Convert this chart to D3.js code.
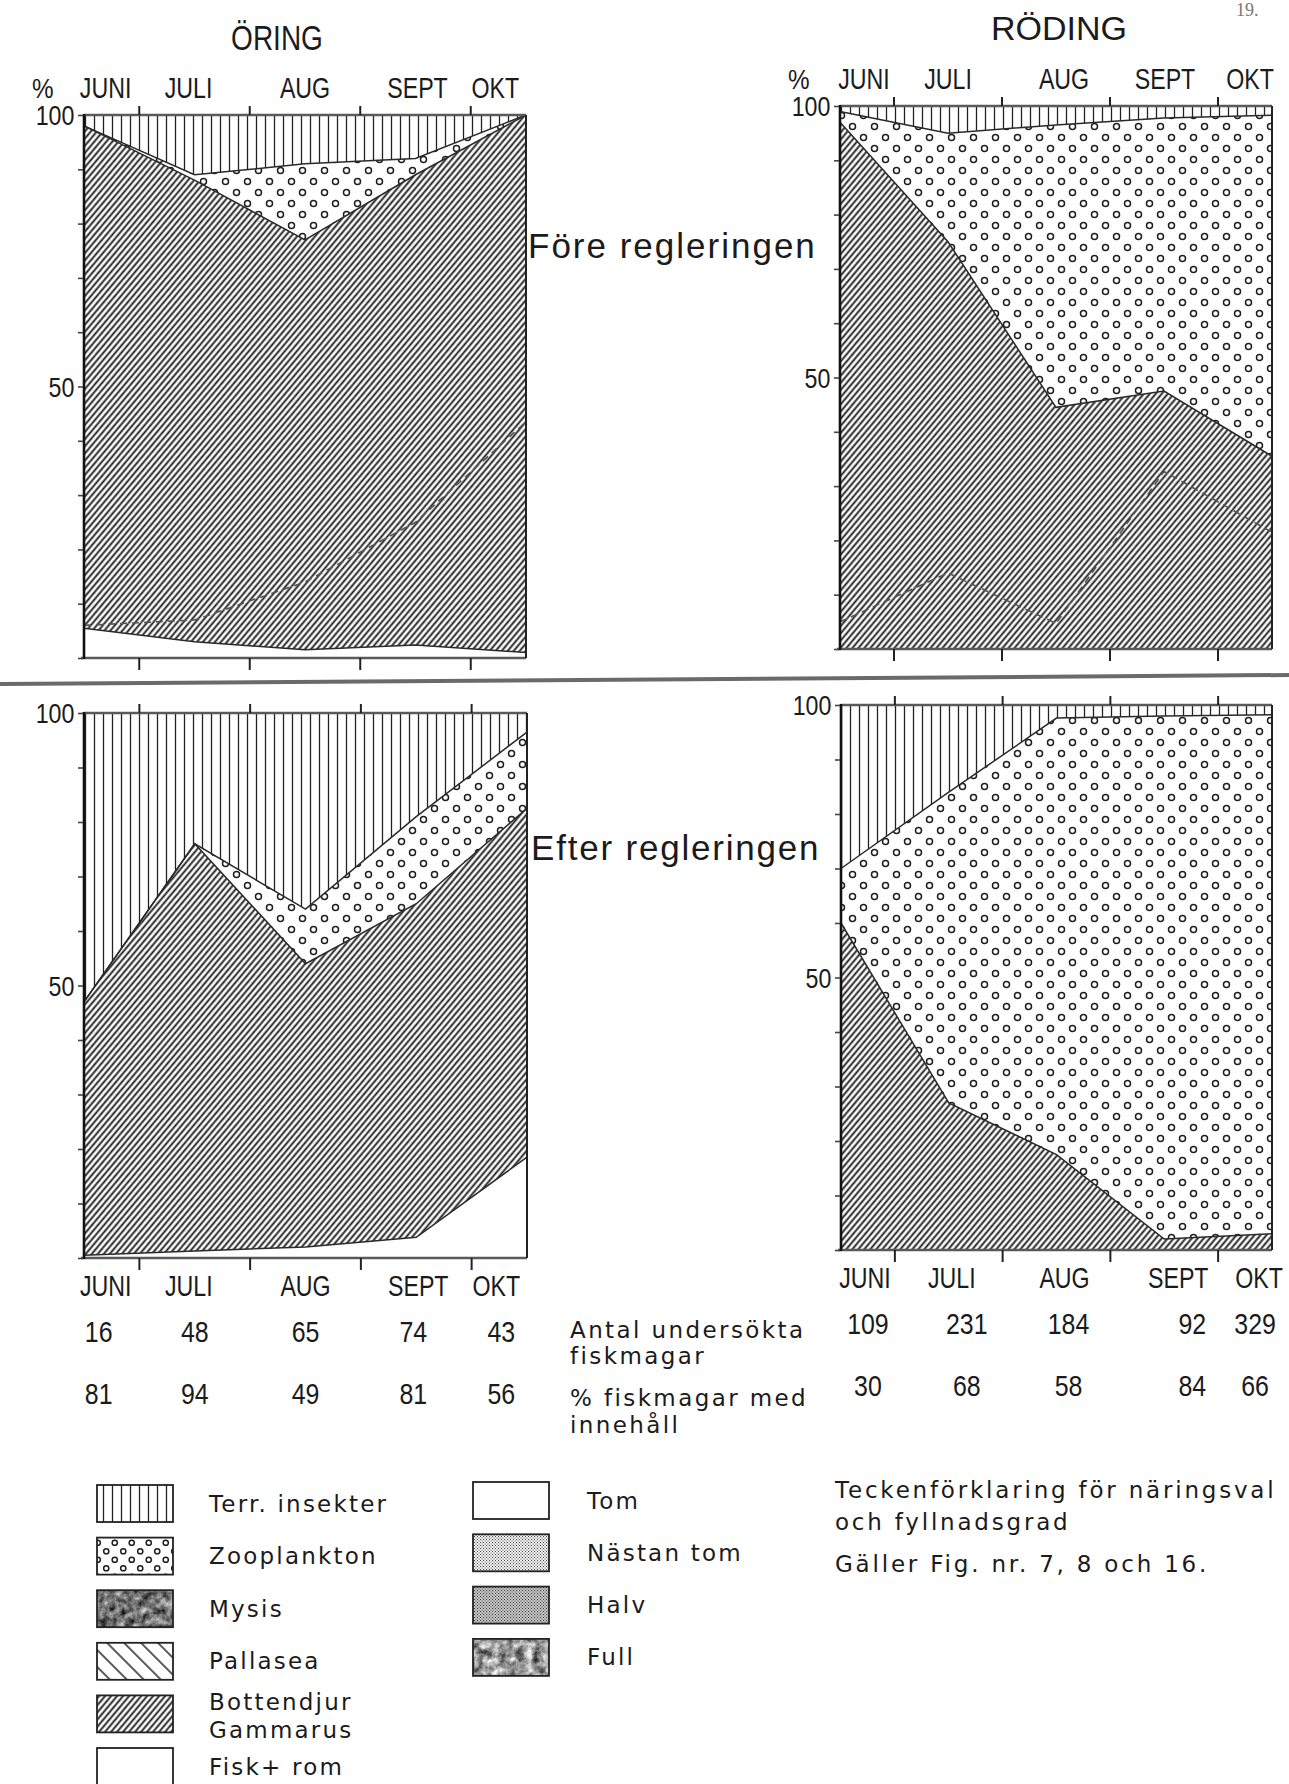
<!DOCTYPE html>
<html>
<head>
<meta charset="utf-8">
<script src="https://cdn.jsdelivr.net/npm/d3@7"></script>
<style>
  html, body { margin: 0; padding: 0; background: #fff; }
  svg { display: block; }
  .cond { font-family: "Liberation Sans", Arial, sans-serif; fill: #1b1b1b; }
  .reg { font-family: "Liberation Sans", Arial, sans-serif; fill: #1b1b1b; }
  .round { font-family: "DejaVu Sans", "Noto Sans", sans-serif; fill: #1b1b1b; }
</style>
</head>
<body>
<svg id="fig" width="1289" height="1784"></svg>
<script>
// ---- data -------------------------------------------------------------
const months = ["JUNI", "JULI", "AUG", "SEPT", "OKT"];
const yMinorTicks = [0, 10, 20, 30, 40, 50, 60, 70, 80, 90, 100];
const yLabelTicks = [100, 50];

// Share of stomach content (%) per month, stacked bottom to top
// Öring, före regleringen
const oringForeFisk        = [5.5, 3, 1.5, 2.4, 1];
const oringForeGammarus    = [0.5, 4, 12.5, 22.6, 42.5];
const oringForeBottendjur  = [92, 81, 63, 64, 56.5];
const oringForeZooplankton = [0, 1, 14, 3, 0];
const oringForeInsekter    = [2, 11, 9, 8, 0];

// Röding, före regleringen
const rodingForeFisk        = [0, 0, 0, 0, 0];
const rodingForeGammarus    = [5, 14, 4.7, 32.7, 21.5];
const rodingForeBottendjur  = [92, 61, 39.8, 14.8, 14];
const rodingForeZooplankton = [2, 20, 52, 50.3, 62.8];
const rodingForeInsekter    = [1, 5, 3.5, 2.2, 1.7];

// Öring, efter regleringen
const oringEfterFisk        = [0.5, 1.3, 2, 3.8, 18.5];
const oringEfterGammarus    = [0, 0, 0, 0, 0];
const oringEfterBottendjur  = [46.5, 74.7, 52, 61.2, 64];
const oringEfterZooplankton = [0, 0, 10, 16, 14];
const oringEfterInsekter    = [53, 24, 36, 19, 3.5];

// Röding, efter regleringen
const rodingEfterFisk        = [0, 0, 0, 0, 0];
const rodingEfterGammarus    = [0, 0, 0, 0, 0];
const rodingEfterBottendjur  = [60, 27, 17.5, 2, 3];
const rodingEfterZooplankton = [10, 57, 80.1, 96, 95.2];
const rodingEfterInsekter    = [30, 16, 2.4, 2, 1.8];

// Sample sizes
const oringAntal  = [16, 48, 65, 74, 43];
const oringMedInnehall  = [81, 94, 49, 81, 56];
const rodingAntal = [109, 231, 184, 92, 329];
const rodingMedInnehall = [30, 68, 58, 84, 66];

const dietLegend = [["Terr. insekter"], ["Zooplankton"], ["Mysis"], ["Pallasea"], ["Bottendjur", "Gammarus"], ["Fisk+ rom"]];
const fullnessLegend = ["Tom", "Nästan tom", "Halv", "Full"];
const legendNote = ["Teckenförklaring för näringsval", "och fyllnadsgrad", "Gäller Fig. nr. 7, 8 och 16."];

// ---- layout -----------------------------------------------------------
const W = 1289, H = 1784;
const keys = ["fisk", "gammarus", "bottendjur", "zooplankton", "insekter"];
// hand-lettered labels sit slightly off the interval centres
const leftMonthShift     = [-6, -6, 0, 2, -3];
const rightTopMonthShift = [-3, 0, 8, 1, 5];
const rightBotMonthShift = [-3, 3, 8, 14, 14];
const leftCountShift  = [-13, 0, 0, -3, 2];
const rightCountShift = [0, 18, 12, 28, 10];

const panels = [
  { box: { x0: 84, x1: 526, y0: 115, y1: 658 }, monthsAbove: true, pct: true, shift: leftMonthShift,
    data: [oringForeFisk, oringForeGammarus, oringForeBottendjur, oringForeZooplankton, oringForeInsekter] },
  { box: { x0: 840, x1: 1272, y0: 106, y1: 649 }, monthsAbove: true, pct: true, shift: rightTopMonthShift,
    data: [rodingForeFisk, rodingForeGammarus, rodingForeBottendjur, rodingForeZooplankton, rodingForeInsekter] },
  { box: { x0: 84, x1: 527, y0: 713, y1: 1258 }, monthsBelow: true, shift: leftMonthShift,
    counts: [oringAntal, oringMedInnehall], countShift: leftCountShift,
    data: [oringEfterFisk, oringEfterGammarus, oringEfterBottendjur, oringEfterZooplankton, oringEfterInsekter] },
  { box: { x0: 841, x1: 1272, y0: 705, y1: 1250 }, monthsBelow: true, shift: rightBotMonthShift,
    counts: [rodingAntal, rodingMedInnehall], countShift: rightCountShift,
    data: [rodingEfterFisk, rodingEfterGammarus, rodingEfterBottendjur, rodingEfterZooplankton, rodingEfterInsekter] }
];

const svg = d3.select("#fig");
svg.append("rect").attr("width", W).attr("height", H).attr("fill", "#fff");
const defs = svg.append("defs");

// narrow lettering: horizontally compressed text anchored at (x, y)
function narrowText(parent, x, y, text, size, sx, anchor) {
  return parent.append("text").attr("class", "cond")
    .attr("transform", `translate(${x},${y}) scale(${sx},1)`)
    .attr("text-anchor", anchor || "middle").attr("font-size", size).text(text);
}

// ---- fill patterns ----------------------------------------------------
function stripes(id, w, rot, sw, color) {
  const p = defs.append("pattern").attr("id", id).attr("patternUnits", "userSpaceOnUse")
    .attr("width", w).attr("height", 20).attr("patternTransform", `rotate(${rot})`);
  p.append("rect").attr("width", w).attr("height", 20).attr("fill", "#fff");
  p.append("line").attr("x1", w / 2).attr("x2", w / 2).attr("y1", -2).attr("y2", 22)
    .attr("stroke", color).attr("stroke-width", sw);
}
stripes("p-botten", 4.6, 40, 1.9, "#1e1e1e");
stripes("p-insekt", 9, 0, 1.3, "#222");
stripes("p-pallasea", 12, -45, 1.5, "#222");

function dotPattern(id, size, r) {
  const p = defs.append("pattern").attr("id", id).attr("patternUnits", "userSpaceOnUse")
    .attr("width", size).attr("height", size);
  p.append("rect").attr("width", size).attr("height", size).attr("fill", "#fff");
  [[size / 4, size / 4], [3 * size / 4, 3 * size / 4]].forEach(([cx, cy]) =>
    p.append("circle").attr("cx", cx).attr("cy", cy).attr("r", r)
      .attr("fill", "none").attr("stroke", "#1e1e1e").attr("stroke-width", 1.5));
}
dotPattern("p-zoo", 22, 3.0);
dotPattern("p-zoo-small", 17, 2.6);

function checker(id, size, bg, ink) {
  const p = defs.append("pattern").attr("id", id).attr("patternUnits", "userSpaceOnUse")
    .attr("width", 3).attr("height", 3);
  p.append("rect").attr("width", 3).attr("height", 3).attr("fill", bg);
  p.append("rect").attr("width", size).attr("height", size).attr("fill", ink);
  p.append("rect").attr("x", 1.5).attr("y", 1.5).attr("width", size).attr("height", size).attr("fill", ink);
}
checker("p-nastan", 1.1, "#fff", "#444");
checker("p-halv", 1.1, "#cfcfcf", "#3a3a3a");

// mottled grey for the Mysis and Full swatches
function mottle(id, seed, intercept) {
  const f = defs.append("filter").attr("id", id).attr("x", 0).attr("y", 0).attr("width", 1).attr("height", 1)
    .attr("color-interpolation-filters", "sRGB");
  f.append("feTurbulence").attr("type", "fractalNoise").attr("baseFrequency", 0.12)
    .attr("numOctaves", 4).attr("seed", seed);
  f.append("feColorMatrix").attr("type", "matrix")
    .attr("values", `1.25 0 0 0 ${intercept}  1.25 0 0 0 ${intercept}  1.25 0 0 0 ${intercept}  0 0 0 0 1`);
}
mottle("f-mysis", 4, -0.17);
mottle("f-full", 9, -0.04);

const fills = {
  fisk: "#fff",
  gammarus: "url(#p-botten)",
  bottendjur: "url(#p-botten)",
  zooplankton: "url(#p-zoo)",
  insekter: "url(#p-insekt)"
};

// ---- panels -----------------------------------------------------------
function drawPanel(p) {
  const { x0, x1, y0, y1 } = p.box;
  const g = svg.append("g");
  const x = d3.scalePoint().domain(months).range([x0, x1]);
  const y = d3.scaleLinear().domain([0, 100]).range([y1, y0]);

  const rows = months.map((m, i) => {
    const r = { month: m };
    keys.forEach((k, j) => { r[k] = p.data[j][i]; });
    return r;
  });
  const layers = d3.stack().keys(keys)(rows);

  const area = d3.area()
    .x(d => x(d.data.month))
    .y0(d => y(d[0]))
    .y1(d => y(d[1]));
  g.selectAll("path.layer").data(layers).join("path")
    .attr("class", "layer")
    .attr("d", area)
    .attr("fill", d => fills[d.key]);

  // boundaries between the food categories
  const edge = d3.line().x(d => x(d.data.month)).y(d => y(d[1]));
  layers.slice(0, -1).forEach((layer, i) => {
    if (d3.sum(p.data[i]) === 0) return;
    const isGammarus = layer.key === "gammarus";
    g.append("path").attr("d", edge(layer))
      .attr("fill", "none")
      .attr("stroke", isGammarus ? "#555" : "#2a2a2a")
      .attr("stroke-width", isGammarus ? 1.6 : 1.5)
      .attr("stroke-dasharray", isGammarus ? "7 5" : null);
  });

  // frame
  g.append("line").attr("x1", x0).attr("x2", x1).attr("y1", y0).attr("y2", y0)
    .attr("stroke", "#5a5a5a").attr("stroke-width", 2.4);
  g.append("line").attr("x1", x0 - 3).attr("x2", x1).attr("y1", y1).attr("y2", y1)
    .attr("stroke", "#5a5a5a").attr("stroke-width", 2.4);
  g.append("line").attr("x1", x1).attr("x2", x1).attr("y1", y0).attr("y2", y1)
    .attr("stroke", "#222").attr("stroke-width", 2);
  g.append("line").attr("x1", x0).attr("x2", x0).attr("y1", y0 - 1).attr("y2", y1 + 1)
    .attr("stroke", "#111").attr("stroke-width", 2.6);

  // y axis: minor marks every 10 %, labels at 100 and 50
  const yAxis = d3.axisLeft(y).tickValues(yMinorTicks).tickSize(5).tickPadding(5)
    .tickFormat(d => yLabelTicks.includes(d) ? d : "");
  const ya = g.append("g").attr("transform", `translate(${x0 - 1},0)`).call(yAxis);
  ya.select(".domain").remove();
  ya.selectAll(".tick line").attr("stroke", "#444").attr("stroke-width", 1.6);
  ya.selectAll(".tick text").attr("class", "cond").attr("font-size", 27)
    .attr("dy", "0.36em").attr("fill", "#1b1b1b")
    .attr("transform", "scale(0.86,1)");

  // month boundaries as ticks on top and bottom edges
  const bounds = d3.pairs(months).map(([a, b]) => (x(a) + x(b)) / 2);
  g.selectAll("line.ttop").data(bounds).join("line").attr("class", "ttop")
    .attr("x1", d => d).attr("x2", d => d).attr("y1", y0).attr("y2", y0 - 9)
    .attr("stroke", "#222").attr("stroke-width", 2);
  g.selectAll("line.tbot").data(bounds).join("line").attr("class", "tbot")
    .attr("x1", d => d).attr("x2", d => d).attr("y1", y1).attr("y2", y1 + 12)
    .attr("stroke", "#222").attr("stroke-width", 2);

  // month names centred in their interval
  const edges = [x0, ...bounds, x1];
  const centres = months.map((m, i) => (edges[i] + edges[i + 1]) / 2);
  const labelY = p.monthsAbove ? y0 - 17 : y1 + 38;
  months.forEach((m, i) => narrowText(g, centres[i] + p.shift[i], labelY, m, 29, 0.8));

  if (p.pct) narrowText(g, x0 - 52, labelY, "%", 27, 0.9, "start");

  if (p.counts) {
    p.counts.forEach((vals, r) => {
      vals.forEach((v, i) =>
        narrowText(g, centres[i] + p.countShift[i], y1 + 84 + r * 62, v, 29, 0.86));
    });
  }
}
panels.forEach(drawPanel);

// ---- titles and captions ---------------------------------------------
narrowText(svg, 277, 50, "ÖRING", 35, 0.8).attr("class", "reg");
svg.append("text").attr("class", "reg").attr("x", 1059).attr("y", 40)
  .attr("text-anchor", "middle").attr("font-size", 34).text("RÖDING");
svg.append("text").attr("x", 1236).attr("y", 16).attr("font-size", 18).attr("fill", "#777")
  .style("font-family", "Liberation Serif, serif").text("19.");
svg.append("text").attr("class", "reg").attr("x", 528).attr("y", 258)
  .attr("font-size", 35).style("letter-spacing", "2px").text("Före regleringen");
svg.append("text").attr("class", "reg").attr("x", 531).attr("y", 860)
  .attr("font-size", 35).style("letter-spacing", "1.8px").text("Efter regleringen");

// divider between the two periods
svg.append("line").attr("x1", 0).attr("x2", W).attr("y1", 684).attr("y2", 675)
  .attr("stroke", "#6a6a6a").attr("stroke-width", 4);

// row captions for the sample counts
const captions = [["Antal undersökta", 1338], ["fiskmagar", 1364], ["% fiskmagar med", 1406], ["innehåll", 1433]];
captions.forEach(([t, yy]) =>
  svg.append("text").attr("class", "round").attr("x", 570).attr("y", yy)
    .attr("font-size", 23).style("letter-spacing", "2.4px").text(t));

// ---- legend -----------------------------------------------------------
function legendSwatch(gx, top, fill) {
  const w = 76, h = 37;
  if (fill.startsWith("f-")) {
    svg.append("rect").attr("x", gx).attr("y", top).attr("width", w).attr("height", h)
      .attr("filter", `url(#${fill})`);
  } else {
    svg.append("rect").attr("x", gx).attr("y", top).attr("width", w).attr("height", h).attr("fill", fill);
  }
  svg.append("rect").attr("x", gx).attr("y", top).attr("width", w).attr("height", h)
    .attr("fill", "none").attr("stroke", "#222").attr("stroke-width", 1.8);
  return h;
}

const dietSwatches = ["url(#p-insekt)", "url(#p-zoo-small)", "f-mysis", "url(#p-pallasea)", "url(#p-botten)", "#fff"];
dietLegend.forEach((lines, i) => {
  const top = 1485 + i * 52.6;
  const h = legendSwatch(97, top, dietSwatches[i]);
  lines.forEach((t, j) => {
    const base = lines.length === 1 ? top + h / 2 + 8 : top + 15 + j * 28;
    svg.append("text").attr("class", "round").attr("x", 209).attr("y", base)
      .attr("font-size", 23).style("letter-spacing", "2.2px").text(t);
  });
});

const fullnessSwatches = ["#fff", "url(#p-nastan)", "url(#p-halv)", "f-full"];
fullnessLegend.forEach((t, i) => {
  const top = 1482 + i * 52.3;
  const h = legendSwatch(473, top, fullnessSwatches[i]);
  svg.append("text").attr("class", "round").attr("x", 587).attr("y", top + h / 2 + 8)
    .attr("font-size", 23).style("letter-spacing", "2.2px").text(t);
});

legendNote.forEach((t, i) =>
  svg.append("text").attr("class", "round").attr("x", 835).attr("y", [1498, 1530, 1572][i])
    .attr("font-size", 23).style("letter-spacing", "2.8px").text(t));
</script>
</body>
</html>
